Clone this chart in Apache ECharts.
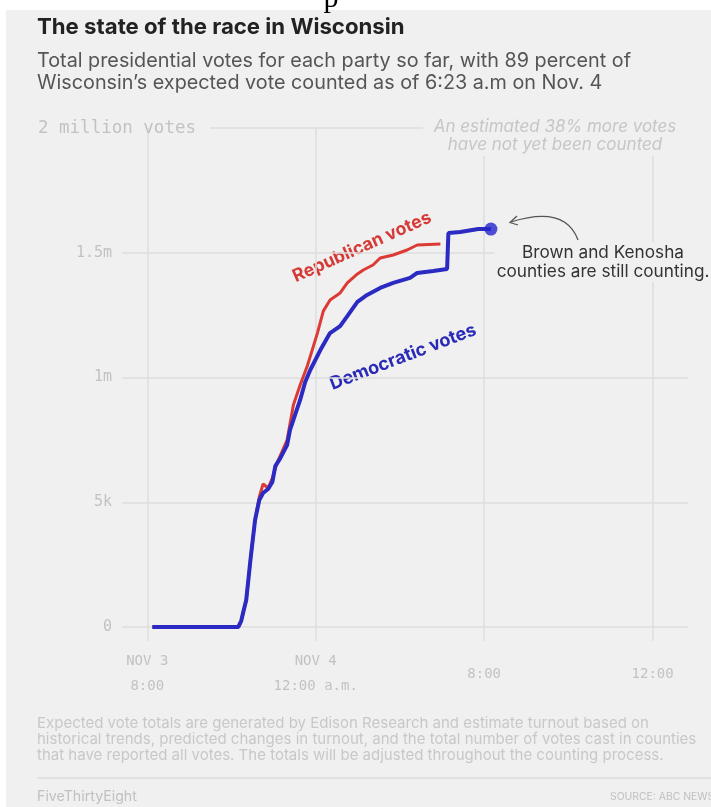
<!DOCTYPE html>
<html><head><meta charset="utf-8">
<script src="https://cdn.jsdelivr.net/npm/echarts/dist/echarts.min.js"></script>
<style>html,body{margin:0;padding:0;background:#fff;}#c{width:711px;height:807px;}</style>
</head><body><div id="c"></div><script>
// Hours after Nov 3, 8:00 p.m.; votes in thousands
const repHours = [0.12, 2.16, 2.23, 2.28, 2.35, 2.45, 2.56, 2.66, 2.75, 2.87, 2.97, 3.09, 3.32, 3.47, 3.63, 3.80, 4.04, 4.18, 4.34, 4.58, 4.75, 4.99, 5.13, 5.36, 5.53, 5.84, 6.17, 6.41, 6.96];
const repVotes = [0, 0, 24, 60, 108, 269, 429, 521, 573, 557, 597, 661, 749, 890, 970, 1046, 1178, 1266, 1311, 1339, 1379, 1415, 1431, 1451, 1479, 1491, 1511, 1531, 1535];
const demHours = [0.12, 2.16, 2.23, 2.28, 2.35, 2.45, 2.56, 2.66, 2.75, 2.87, 2.97, 3.04, 3.16, 3.32, 3.39, 3.51, 3.63, 3.75, 3.87, 4.11, 4.34, 4.58, 4.75, 4.99, 5.22, 5.53, 5.84, 6.24, 6.41, 6.79, 7.12, 7.15, 7.43, 7.86, 8.16];
const demVotes = [0, 0, 24, 60, 108, 269, 429, 509, 537, 553, 581, 645, 677, 729, 790, 850, 910, 982, 1030, 1110, 1178, 1206, 1246, 1303, 1331, 1359, 1379, 1399, 1419, 1427, 1435, 1579, 1583, 1595, 1595];
const xTickValues = [0, 4, 8, 12];
const xTickLabels = ['NOV 3\n8:00', 'NOV 4\n12:00 a.m.', '8:00', '12:00'];
const yTickValues = [0, 500, 1000, 1500];
const yTickLabels = ['0', '5k', '1m', '1.5m'];
const yTopValue = 2000;
const yTopLabel = '2 million votes';

const rep = repHours.map((h, i) => [h, repVotes[i]]);
const dem = demHours.map((h, i) => [h, demVotes[i]]);
const demLast = dem[dem.length - 1];

const MONO = '"DejaVu Sans Mono", "Liberation Mono", monospace';
const SANS = 'Inter, "Liberation Sans", Arial, sans-serif';
const BG = '#f0f0f0';
const GRID = '#dedede';
const AXTXT = '#c2c2c2';

// size a font so a text spans a given width (layout only)
const ctx = document.createElement('canvas').getContext('2d');
function fit(text, style, family, width) {
  ctx.font = style + ' 100px ' + family;
  const w = ctx.measureText(text).width;
  return Math.round(100 * width / w * 10) / 10;
}
const T1 = 'The state of the race in Wisconsin';
const S1 = 'Total presidential votes for each party so far, with 89 percent of';
const S2 = 'Wisconsin\u2019s expected vote counted as of 6:23 a.m on Nov. 4';
const F1 = 'Expected vote totals are generated by Edison Research and estimate turnout based on';
const F2 = 'historical trends, predicted changes in turnout, and the total number of votes cast in counties';
const F3 = 'that have reported all votes. The totals will be adjusted throughout the counting process.';
const NOTE = 'An estimated 38% more votes\nhave not yet been counted';
const ANN = 'Brown and Kenosha\ncounties are still counting.';

const fsTitle = fit(T1, 'bold', SANS, 367);
const fsSub = fit(S1, 'normal', SANS, 595);
const fsFoot = fit(F2, 'normal', SANS, 660);
const fsNote = fit('An estimated 38% more votes', 'italic', SANS, 243);
const fsAnn = fit('counties are still counting.', 'normal', SANS, 213);
const fsRep = fit('Republican votes', 'bold', SANS, 150);
const fsDem = fit('Democratic votes', 'bold', SANS, 155);
const fsTop = fit(yTopLabel, 'normal', MONO, 158);
const fsSrc = fit('FiveThirtyEight', 'normal', SANS, 100);
const fsSrc2 = fit('SOURCE: ABC NEWS', 'normal', SANS, 104);

const chart = echarts.init(document.getElementById('c'));
chart.setOption({
  animation: false,
  backgroundColor: '#ffffff',
  grid: { left: 122, right: 23, top: 128, bottom: 180 },
  xAxis: {
    type: 'value', min: -0.6, max: 12.84,
    axisLine: { show: false },
    axisTick: { show: true, length: 14, customValues: xTickValues, lineStyle: { color: GRID, width: 1.5 } },
    splitLine: { show: true, lineStyle: { color: GRID, width: 1.5 } },
    axisLabel: {
      customValues: xTickValues,
      margin: 47, verticalAlign: 'middle', lineHeight: 25,
      fontFamily: MONO, fontSize: 14, color: AXTXT,
      formatter: v => xTickLabels[xTickValues.indexOf(v)] || ''
    }
  },
  yAxis: {
    type: 'value', min: 0, max: yTopValue,
    axisLine: { show: false },
    axisTick: { show: false, customValues: yTickValues },
    splitLine: { show: true, lineStyle: { color: GRID, width: 1.5 } },
    axisLabel: {
      customValues: yTickValues, margin: 10,
      fontFamily: MONO, fontSize: 15, color: AXTXT,
      formatter: v => yTickLabels[yTickValues.indexOf(v)] || ''
    }
  },
  series: [
    {
      name: 'Republican votes', type: 'line', data: rep, showSymbol: false,
      lineStyle: { color: '#dc3b35', width: 3 }, z: 3,
      markLine: {
        silent: true, symbol: 'none', animation: false,
        lineStyle: { color: GRID, width: 1.5, type: 'solid' },
        label: { show: true, position: 'start', distance: 14, formatter: yTopLabel,
                 fontFamily: MONO, fontSize: fsTop, color: AXTXT },
        data: [[{ coord: [1.49, yTopValue] }, { coord: [6.55, yTopValue] }]]
      }
    },
    {
      name: 'Democratic votes', type: 'line', data: dem, showSymbol: false,
      lineStyle: { color: '#2b2bc4', width: 4 }, z: 4
    },
    {
      type: 'scatter', data: [demLast], symbolSize: 13,
      itemStyle: { color: '#2424cc' }, z: 5
    }
  ],
  graphic: [
    { type: 'rect', z: -10, shape: { x: 6, y: 10, width: 720, height: 820 }, style: { fill: BG } },
    { type: 'text', z: 10, style: { x: 331, y: 14, text: 'p', font: '30px "Liberation Serif", serif', fill: '#000', align: 'center', verticalAlign: 'bottom' } },
    { type: 'rect', z: 9, shape: { x: 0, y: 10, width: 711, height: 4 }, style: { fill: BG } },
    { type: 'rect', z: 9, shape: { x: 0, y: 10, width: 6, height: 4 }, style: { fill: '#fff' } },
    { type: 'text', style: { x: 37, y: 27, text: T1, font: 'bold ' + fsTitle + 'px ' + SANS, fill: '#222', verticalAlign: 'middle' } },
    { type: 'text', style: { x: 37, y: 61, text: S1, font: fsSub + 'px ' + SANS, fill: '#555', verticalAlign: 'middle' } },
    { type: 'text', style: { x: 37, y: 83, text: S2, font: fsSub + 'px ' + SANS, fill: '#555', verticalAlign: 'middle' } },
    { type: 'text', z: 20, style: { x: 555, y: 136, text: NOTE, font: 'italic ' + fsNote + 'px ' + SANS, fill: '#c6c6c6', align: 'center', verticalAlign: 'middle', lineHeight: 18, backgroundColor: BG, padding: [2, 6] } },
    { type: 'text', rotation: 24 * Math.PI / 180, x: 362, y: 247, style: { x: 0, y: 0, text: 'Republican votes', font: 'bold ' + fsRep + 'px ' + SANS, fill: '#d63a36', align: 'center', verticalAlign: 'middle' } },
    { type: 'text', rotation: 21 * Math.PI / 180, x: 403, y: 357, style: { x: 0, y: 0, text: 'Democratic votes', font: 'bold ' + fsDem + 'px ' + SANS, fill: '#2a2ab8', align: 'center', verticalAlign: 'middle' } },
    { type: 'text', z: 20, style: { x: 603, y: 262, text: ANN, font: fsAnn + 'px ' + SANS, fill: '#333', align: 'center', verticalAlign: 'middle', lineHeight: 19, backgroundColor: BG, padding: [1, 2] } },
    { type: 'bezierCurve', shape: { x1: 578, y1: 240, x2: 511, y2: 222, cpx1: 565, cpy1: 205 }, style: { stroke: '#555', lineWidth: 1.3, fill: 'none' } },
    { type: 'polyline', shape: { points: [[517, 216], [510, 222.5], [518, 225]] }, style: { stroke: '#555', lineWidth: 1.3, fill: 'none' } },
    { type: 'text', style: { x: 37, y: 723, text: F1, font: fsFoot + 'px ' + SANS, fill: '#c8c8c8', verticalAlign: 'middle' } },
    { type: 'text', style: { x: 37, y: 739, text: F2, font: fsFoot + 'px ' + SANS, fill: '#c8c8c8', verticalAlign: 'middle' } },
    { type: 'text', style: { x: 37, y: 755, text: F3, font: fsFoot + 'px ' + SANS, fill: '#c8c8c8', verticalAlign: 'middle' } },
    { type: 'line', shape: { x1: 37, y1: 778, x2: 711, y2: 778 }, style: { stroke: '#dcdcdc', lineWidth: 1.5 } },
    { type: 'text', style: { x: 37, y: 797, text: 'FiveThirtyEight', font: fsSrc + 'px ' + SANS, fill: '#c0c0c0', verticalAlign: 'middle' } },
    { type: 'text', style: { x: 610, y: 797, text: 'SOURCE: ABC NEWS', font: fsSrc2 + 'px ' + SANS, fill: '#c0c0c0', verticalAlign: 'middle' } }
  ]
});
</script></body></html>
